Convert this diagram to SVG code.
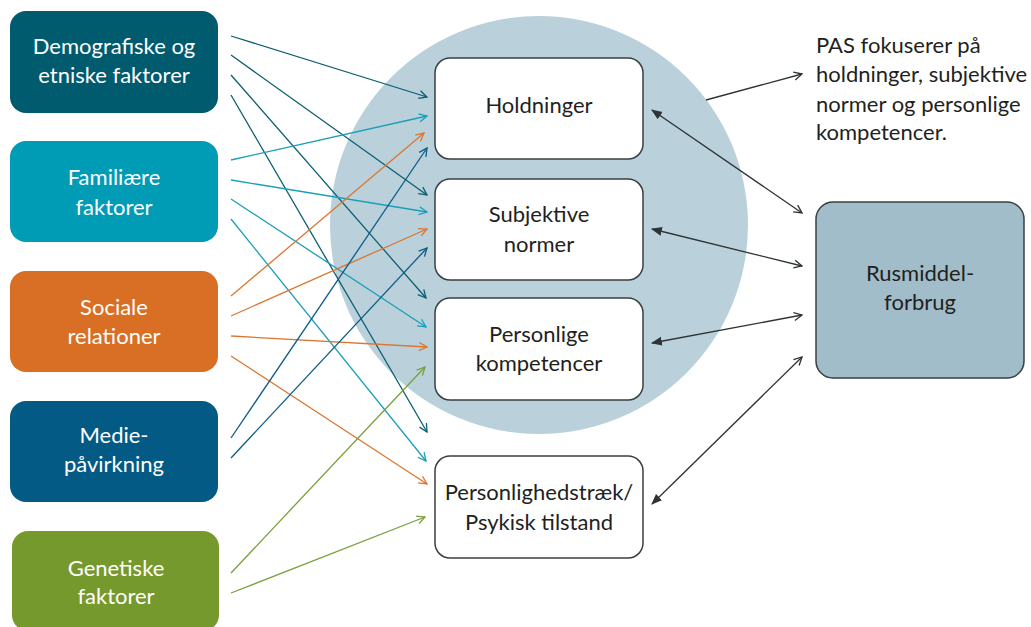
<svg xmlns="http://www.w3.org/2000/svg" width="1031" height="627" viewBox="0 0 1031 627">
<style>
.lbl{font-family:"Lato","Liberation Sans",sans-serif;font-size:22px;text-anchor:middle}
.w{fill:#ffffff}
.d{fill:#231f20}
.wb{fill:#ffffff;stroke:#3a3f42;stroke-width:1.5}
.c{fill:none;stroke-width:1.3}
.dt{stroke:#0b5f72}
.cy{stroke:#1a9fb8}
.or{stroke:#db7631}
.bl{stroke:#0d5c86}
.gr{stroke:#78a03a}
.bk{stroke:#2e3436}
</style>
<defs>
<marker id="a-dt" viewBox="0 0 10 10" refX="9" refY="5" markerWidth="10" markerHeight="10" markerUnits="userSpaceOnUse" orient="auto"><path d="M1,1 L9,5 L1,9" fill="none" stroke="#0b5f72" stroke-width="1.3"/></marker>
<marker id="a-cy" viewBox="0 0 10 10" refX="9" refY="5" markerWidth="10" markerHeight="10" markerUnits="userSpaceOnUse" orient="auto"><path d="M1,1 L9,5 L1,9" fill="none" stroke="#1a9fb8" stroke-width="1.3"/></marker>
<marker id="a-or" viewBox="0 0 10 10" refX="9" refY="5" markerWidth="10" markerHeight="10" markerUnits="userSpaceOnUse" orient="auto"><path d="M1,1 L9,5 L1,9" fill="none" stroke="#db7631" stroke-width="1.3"/></marker>
<marker id="a-bl" viewBox="0 0 10 10" refX="9" refY="5" markerWidth="10" markerHeight="10" markerUnits="userSpaceOnUse" orient="auto"><path d="M1,1 L9,5 L1,9" fill="none" stroke="#0d5c86" stroke-width="1.3"/></marker>
<marker id="a-gr" viewBox="0 0 10 10" refX="9" refY="5" markerWidth="10" markerHeight="10" markerUnits="userSpaceOnUse" orient="auto"><path d="M1,1 L9,5 L1,9" fill="none" stroke="#78a03a" stroke-width="1.3"/></marker>
<marker id="a-bk" viewBox="0 0 10 10" refX="9" refY="5" markerWidth="10" markerHeight="10" markerUnits="userSpaceOnUse" orient="auto"><path d="M1,1 L9,5 L1,9" fill="none" stroke="#2e3436" stroke-width="1.3"/></marker>
<marker id="f-bk" viewBox="0 0 10 10" refX="9" refY="5" markerWidth="11" markerHeight="11" markerUnits="userSpaceOnUse" orient="auto-start-reverse"><path d="M0,1 L10,5 L0,9 z" fill="#2e3436"/></marker>
</defs>
<rect width="1031" height="627" fill="#ffffff"/>
<circle id="pas-circle" cx="539" cy="225" r="209" fill="#bad1db"/>

<g id="n-demografiske"><rect x="10" y="11" width="208" height="102" rx="16" fill="#005b6e"/><text class="lbl w" x="114" y="54">Demografiske og</text><text class="lbl w" x="114" y="83">etniske faktorer</text></g>
<g id="n-familiaere"><rect x="10" y="141" width="208" height="101" rx="16" fill="#009bb5"/><text class="lbl w" x="114" y="185">Familiære</text><text class="lbl w" x="114" y="215">faktorer</text></g>
<g id="n-sociale"><rect x="10" y="271" width="208" height="101" rx="16" fill="#d86f25"/><text class="lbl w" x="114" y="315">Sociale</text><text class="lbl w" x="114" y="344">relationer</text></g>
<g id="n-medie"><rect x="10" y="401" width="208" height="101" rx="16" fill="#035a85"/><text class="lbl w" x="114" y="443">Medie-</text><text class="lbl w" x="114" y="472">påvirkning</text></g>
<g id="n-genetiske"><rect x="12" y="531" width="207" height="100" rx="16" fill="#76992e"/><text class="lbl w" x="116" y="576">Genetiske</text><text class="lbl w" x="116" y="604">faktorer</text></g>

<g id="n-holdninger"><rect class="wb" x="435" y="58" width="208" height="101" rx="15"/><text class="lbl d" x="539" y="113">Holdninger</text></g>
<g id="n-subjektive"><rect class="wb" x="435" y="179" width="208" height="101" rx="15"/><text class="lbl d" x="539" y="222">Subjektive</text><text class="lbl d" x="539" y="252">normer</text></g>
<g id="n-personlige"><rect class="wb" x="435" y="298" width="208" height="102" rx="15"/><text class="lbl d" x="539" y="342">Personlige</text><text class="lbl d" x="539" y="371">kompetencer</text></g>
<g id="n-personlighed"><rect class="wb" x="435" y="456" width="208" height="102" rx="15"/><text class="lbl d" x="539" y="500">Personlighedstræk/</text><text class="lbl d" x="539" y="530">Psykisk tilstand</text></g>
<g id="n-rusmiddel"><rect x="816" y="202" width="208" height="176" rx="17" fill="#a0bdc9" stroke="#3a3f42" stroke-width="1.5"/><text class="lbl d" x="920" y="281">Rusmiddel-</text><text class="lbl d" x="920" y="310">forbrug</text></g>
<g id="n-note"><text class="d" style="font-family:'Lato','Liberation Sans',sans-serif;font-size:22px" x="816"><tspan x="816" y="53">PAS fokuserer på</tspan><tspan x="816" y="82">holdninger, subjektive</tspan><tspan x="816" y="112">normer og personlige</tspan><tspan x="816" y="140">kompetencer.</tspan></text></g>

<g id="connectors">
<line class="c dt" x1="231" y1="36" x2="427" y2="97" marker-end="url(#a-dt)"/>
<line class="c dt" x1="231" y1="55" x2="427" y2="195" marker-end="url(#a-dt)"/>
<line class="c dt" x1="231" y1="75" x2="426" y2="298" marker-end="url(#a-dt)"/>
<line class="c dt" x1="231" y1="95" x2="427" y2="432" marker-end="url(#a-dt)"/>
<line class="c cy" x1="231" y1="160" x2="427" y2="116" marker-end="url(#a-cy)"/>
<line class="c cy" x1="231" y1="180" x2="427" y2="212" marker-end="url(#a-cy)"/>
<line class="c cy" x1="231" y1="199" x2="426" y2="327" marker-end="url(#a-cy)"/>
<line class="c cy" x1="231" y1="219" x2="426" y2="461" marker-end="url(#a-cy)"/>
<line class="c or" x1="231" y1="296" x2="424" y2="133" marker-end="url(#a-or)"/>
<line class="c or" x1="231" y1="316" x2="427" y2="229" marker-end="url(#a-or)"/>
<line class="c or" x1="231" y1="336" x2="427" y2="347" marker-end="url(#a-or)"/>
<line class="c or" x1="231" y1="356" x2="427" y2="484" marker-end="url(#a-or)"/>
<line class="c bl" x1="231" y1="438" x2="427" y2="148" marker-end="url(#a-bl)"/>
<line class="c bl" x1="231" y1="458" x2="427" y2="248" marker-end="url(#a-bl)"/>
<line class="c gr" x1="231" y1="573" x2="425" y2="367" marker-end="url(#a-gr)"/>
<line class="c gr" x1="231" y1="593" x2="425" y2="517" marker-end="url(#a-gr)"/>
<line class="c bk" x1="706" y1="100" x2="802" y2="74" marker-end="url(#a-bk)"/>
<line class="c bk" x1="652" y1="110" x2="802" y2="213" marker-start="url(#f-bk)" marker-end="url(#a-bk)"/>
<line class="c bk" x1="652" y1="229" x2="802" y2="266" marker-start="url(#f-bk)" marker-end="url(#a-bk)"/>
<line class="c bk" x1="652" y1="343" x2="802" y2="315" marker-start="url(#f-bk)" marker-end="url(#a-bk)"/>
<line class="c bk" x1="652" y1="504" x2="802" y2="357" marker-start="url(#f-bk)" marker-end="url(#a-bk)"/>
</g>
</svg>
